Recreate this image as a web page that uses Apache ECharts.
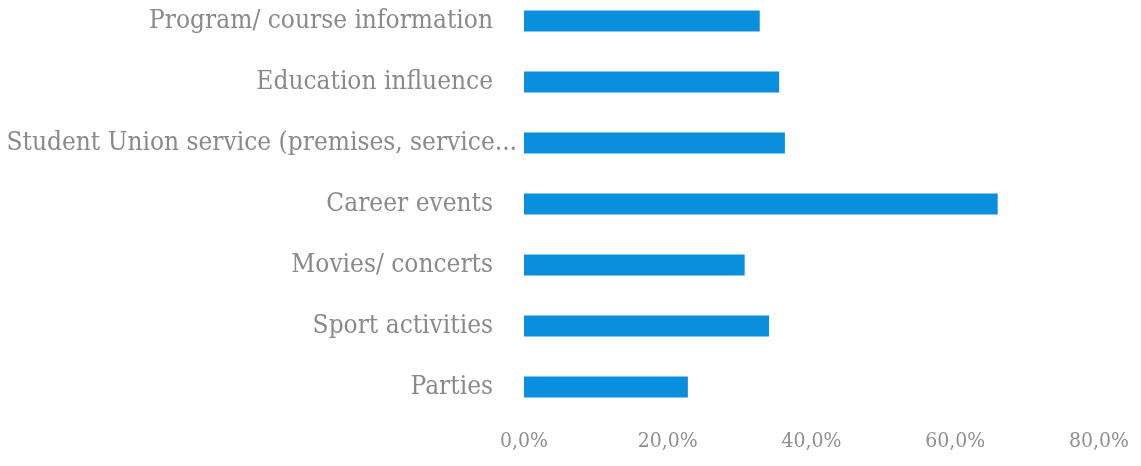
<!DOCTYPE html>
<html>
<head>
<meta charset="utf-8">
<script src="https://cdn.jsdelivr.net/npm/echarts@6/dist/echarts.min.js"></script>
<style>html,body{margin:0;padding:0;background:#fff;overflow:hidden;}#c{width:1141px;height:476px;margin-top:-10px;}</style>
</head>
<body>
<div id="c"></div>
<script>
const categories = ["Program/ course information","Education influence","Student Union service (premises, service...","Career events","Movies/ concerts","Sport activities","Parties"];
const values = [32.8, 35.5, 36.3, 65.9, 30.7, 34.1, 22.8];
const tickValues = [0, 20, 40, 60, 80];

const FONT = "DejaVu Serif Condensed, DejaVu Serif, serif";
const chart = echarts.init(document.getElementById('c'));
chart.setOption({
  animation: false,
  grid: { left: 524, right: 42, top: 0.5, bottom: 48.5, containLabel: false },
  xAxis: {
    type: 'value', min: tickValues[0], max: tickValues[tickValues.length - 1], interval: 20,
    axisLine: { show: false }, axisTick: { show: false }, splitLine: { show: false },
    axisLabel: {
      color: '#8f8f8f', fontFamily: FONT, fontSize: 21, margin: 14,
      formatter: v => v.toFixed(1).replace('.', ',') + '%'
    }
  },
  yAxis: {
    type: 'category', inverse: true, data: categories,
    axisLine: { show: false }, axisTick: { show: false }, splitLine: { show: false },
    axisLabel: {
      margin: 7,
      formatter: (v, i) => v.length > 35 ? '{b|' + v + '}' : '{a|' + v + '}',
      rich: {
        a: { color: '#8a8a8a', fontFamily: FONT, fontSize: 26, padding: [0, 24, 0, 0] },
        b: { color: '#8a8a8a', fontFamily: FONT, fontSize: 26 }
      }
    }
  },
  series: [{
    type: 'bar', data: values, barWidth: 21,
    itemStyle: { color: '#0A8FDE' }
  }]
});
</script>
</body>
</html>
